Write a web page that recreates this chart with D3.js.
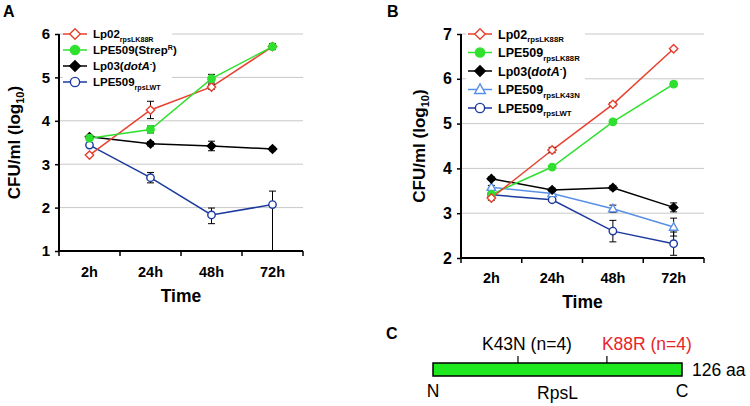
<!DOCTYPE html>
<html><head><meta charset="utf-8">
<script src="https://cdn.jsdelivr.net/npm/d3@7"></script>
<style>body{margin:0;background:#fff}svg{font-family:"Liberation Sans",Arial,sans-serif;display:block}</style>
</head><body><svg id="c" width="750" height="406"></svg>
<script>
const times = ["2h", "24h", "48h", "72h"];
const yTicksA = [1, 2, 3, 4, 5, 6];
const yTicksB = [2, 3, 4, 5, 6, 7];

// Panel A values (log10 CFU/ml) and error bars
const aLp02 = [3.21, 4.25, 4.78, 5.71];      const aLp02Err = [0.03, 0.2, 0.05, 0.06];
const aStrep = [3.6, 3.8, 4.97, 5.71];       const aStrepErr = [0.03, 0.08, 0.1, 0.07];
const aLp03 = [3.63, 3.47, 3.42, 3.35];      const aLp03Err = [0.03, 0.05, 0.11, 0.04];
const aWT = [3.44, 2.69, 1.83, 2.07];        const aWTErr = [0.05, 0.12, 0.16, 0.31];
const aWTErrLow = [0.05, 0.12, 0.2, 1.07];

// Panel B values
const bLp02 = [3.34, 4.41, 5.43, 6.67];      const bLp02Err = [0.05, 0.06, 0.04, 0.03];
const bK88R = [3.42, 4.03, 5.04, 5.88];      const bK88RErr = [0.03, 0.03, 0.04, 0.05];
const bLp03 = [3.77, 3.52, 3.57, 3.13];      const bLp03Err = [0.04, 0.04, 0.05, 0.1];
const bK43N = [3.58, 3.44, 3.1, 2.69];       const bK43NErr = [0.04, 0.05, 0.08, 0.2];
const bWT = [3.41, 3.3, 2.6, 2.32];          const bWTErr = [0.04, 0.04, 0.24, 0.26];

// Panel C
const proteinLength = 126;
const mutations = ["K43N (n=4)", "K88R (n=4)"];
const mutationPos = [43, 88];

const RED = "#e8412f", GREEN = "#2fe02f", BLACK = "#000", DBLUE = "#1c3a9e", LBLUE = "#5a8fe6";

const svg = d3.select("#c");

function marker(g, type, color, x, y, s) {
  s = s || 1;
  if (type === "diamondOpen" || type === "diamondFilled") {
    const r = 4.2 * s;
    g.append("path").attr("d", `M${x},${y - r}L${x + r},${y}L${x},${y + r}L${x - r},${y}Z`)
      .attr("fill", type === "diamondOpen" ? "#fff" : color).attr("stroke", color).attr("stroke-width", 1.4);
  } else if (type === "circleFilled" || type === "circleOpen") {
    g.append("circle").attr("cx", x).attr("cy", y).attr("r", 3.7 * s)
      .attr("fill", type === "circleOpen" ? "#fff" : color).attr("stroke", color).attr("stroke-width", 1.4);
  } else if (type === "triangleOpen") {
    const r = 4.5 * s;
    g.append("path").attr("d", `M${x},${y - r}L${x + r * 0.95},${y + r * 0.7}L${x - r * 0.95},${y + r * 0.7}Z`)
      .attr("fill", "#fff").attr("stroke", color).attr("stroke-width", 1.4);
  }
}

function labelParts(t, parts, fs) {
  parts.forEach(p => {
    const ts = t.append("tspan").text(p.t);
    if (p.sub) ts.attr("font-size", fs * 0.62).attr("dy", fs * 0.3);
    if (p.sup) ts.attr("font-size", fs * 0.62).attr("dy", -fs * 0.4);
    if (p.it) ts.attr("font-style", "italic");
    if (p.reset) ts.attr("dy", p.reset);
  });
}

function panel(cfg) {
  const g = svg.append("g");
  const x = d3.scaleBand().domain(times).range(cfg.xr);
  const y = d3.scaleLinear().domain(cfg.yd).range(cfg.yr);
  const cx = d => x(d) + x.bandwidth() / 2;

  // gridlines
  g.append("g").selectAll("line").data(cfg.yTicks.slice(1)).join("line")
    .attr("x1", cfg.xr[0]).attr("x2", cfg.xr[1]).attr("y1", d => y(d)).attr("y2", d => y(d))
    .attr("stroke", "#c8c8c8").attr("stroke-width", 1);

  // legend background
  g.append("rect").attr("x", cfg.legBg[0]).attr("y", cfg.legBg[1]).attr("width", cfg.legBg[2]).attr("height", cfg.legBg[3]).attr("fill", "#fff");

  // y axis
  const ya = g.append("g").attr("transform", `translate(${cfg.xr[0]},0)`)
    .call(d3.axisLeft(y).tickValues(cfg.yTicks).tickFormat(d3.format("d")).tickSize(4).tickPadding(5));
  ya.select(".domain").attr("stroke-width", 2).attr("d", `M0,${cfg.yr[0]}V${cfg.yr[1]}`);
  ya.selectAll(".tick line").attr("stroke-width", 1.5);
  ya.selectAll("text").attr("font-size", cfg.tickFs).attr("font-weight", "bold").attr("fill", "#000");

  // x axis
  const xa = g.append("g").attr("transform", `translate(0,${cfg.yr[0]})`);
  xa.append("line").attr("x1", cfg.xr[0]).attr("x2", cfg.xr[1]).attr("stroke", "#000").attr("stroke-width", 2);
  const bounds = times.map(d => x(d)).concat([x(times[times.length - 1]) + x.step()]);
  xa.selectAll(".bt").data(bounds).join("line").attr("class", "bt")
    .attr("x1", d => d).attr("x2", d => d).attr("y1", 0).attr("y2", 5).attr("stroke", "#000").attr("stroke-width", 1.5);
  xa.selectAll(".xl").data(times).join("text").attr("class", "xl")
    .attr("x", cx).attr("y", cfg.xlabDy).attr("text-anchor", "middle")
    .attr("font-size", 14.5).attr("font-weight", "bold").text(d => d);

  // axis titles
  g.append("text").attr("x", (cfg.xr[0] + cfg.xr[1]) / 2).attr("y", cfg.timeY).attr("text-anchor", "middle")
    .attr("font-size", 17.5).attr("font-weight", "bold").text("Time");
  const yt = g.append("text").attr("transform", `translate(${cfg.ytX},${(cfg.yr[0] + cfg.yr[1]) / 2}) rotate(-90)`)
    .attr("text-anchor", "middle").attr("font-size", 17).attr("font-weight", "bold");
  yt.append("tspan").text("CFU/ml (log");
  yt.append("tspan").text("10").attr("font-size", 11).attr("dy", 4);
  yt.append("tspan").text(")").attr("dy", -4);

  // panel letter
  g.append("text").attr("x", cfg.letter[0]).attr("y", cfg.letter[1]).attr("font-size", 16).attr("font-weight", "bold").text(cfg.letter[2]);

  // lines
  const line = d3.line().x((d, i) => cx(times[i])).y(d => y(d));
  cfg.series.forEach(s => {
    g.append("path").attr("d", line(s.v)).attr("fill", "none").attr("stroke", s.c).attr("stroke-width", 1.5);
  });
  // error bars
  cfg.series.forEach(s => {
    s.v.forEach((v, i) => {
      const lo = v - (s.el ? s.el[i] : s.e[i]), hi = v + s.e[i];
      const xx = cx(times[i]);
      g.append("line").attr("x1", xx).attr("x2", xx).attr("y1", y(lo)).attr("y2", y(hi)).attr("stroke", "#000").attr("stroke-width", 1);
      [hi, lo].forEach(w => {
        if (w > cfg.yd[0]) g.append("line").attr("x1", xx - 3.5).attr("x2", xx + 3.5).attr("y1", y(w)).attr("y2", y(w)).attr("stroke", "#000").attr("stroke-width", 1);
      });
    });
  });
  // markers
  cfg.series.forEach(s => {
    s.v.forEach((v, i) => marker(g, s.m, s.c, cx(times[i]), y(v)));
  });

  // legend
  cfg.series.slice().sort((a, b) => a.li - b.li).forEach((s, k) => {
    const ly = cfg.legY + k * cfg.legStep;
    g.append("line").attr("x1", cfg.legX).attr("x2", cfg.legX + 24).attr("y1", ly).attr("y2", ly).attr("stroke", s.c).attr("stroke-width", 1.5);
    marker(g, s.m, s.c, cfg.legX + 12, ly, 1.25);
    const t = g.append("text").attr("x", cfg.legX + 30).attr("y", ly + cfg.legFs * 0.36)
      .attr("font-size", cfg.legFs).attr("font-weight", "bold");
    labelParts(t, s.lab, cfg.legFs);
  });
}

panel({
  xr: [59, 303], yd: [1, 6], yr: [251, 34], yTicks: yTicksA, tickFs: 15,
  xlabDy: 26, timeY: 302, ytX: 20, letter: [3, 17, "A"],
  legBg: [63, 26, 109, 64], legX: 63, legY: 34, legStep: 16, legFs: 11.5,
  series: [
    { v: aWT, e: aWTErr, el: aWTErrLow, c: DBLUE, m: "circleOpen", li: 3,
      lab: [{ t: "LPE509" }, { t: "rpsLWT", sub: 1 }] },
    { v: aLp03, e: aLp03Err, c: BLACK, m: "diamondFilled", li: 2,
      lab: [{ t: "Lp03(" }, { t: "dotA", it: 1 }, { t: "-", sup: 1 }, { t: ")", reset: 11.5 * 0.4 }] },
    { v: aLp02, e: aLp02Err, c: RED, m: "diamondOpen", li: 0,
      lab: [{ t: "Lp02" }, { t: "rpsLK88R", sub: 1 }] },
    { v: aStrep, e: aStrepErr, c: GREEN, m: "circleFilled", li: 1,
      lab: [{ t: "LPE509(Strep" }, { t: "R", sup: 1 }, { t: ")", reset: 11.5 * 0.4 }] }
  ]
});

panel({
  xr: [461, 704], yd: [2, 7], yr: [258, 34], yTicks: yTicksB, tickFs: 16,
  xlabDy: 25, timeY: 308, ytX: 425, letter: [387, 17, "B"],
  legBg: [466, 26, 119, 97], legX: 468, legY: 34, legStep: 18.5, legFs: 12.5,
  series: [
    { v: bWT, e: bWTErr, c: DBLUE, m: "circleOpen", li: 4,
      lab: [{ t: "LPE509" }, { t: "rpsLWT", sub: 1 }] },
    { v: bK43N, e: bK43NErr, c: LBLUE, m: "triangleOpen", li: 3,
      lab: [{ t: "LPE509" }, { t: "rpsLK43N", sub: 1 }] },
    { v: bLp03, e: bLp03Err, c: BLACK, m: "diamondFilled", li: 2,
      lab: [{ t: "Lp03(" }, { t: "dotA", it: 1 }, { t: "-", sup: 1 }, { t: ")", reset: 12.5 * 0.4 }] },
    { v: bK88R, e: bK88RErr, c: GREEN, m: "circleFilled", li: 1,
      lab: [{ t: "LPE509" }, { t: "rpsLK88R", sub: 1 }] },
    { v: bLp02, e: bLp02Err, c: RED, m: "diamondOpen", li: 0,
      lab: [{ t: "Lp02" }, { t: "rpsLK88R", sub: 1 }] }
  ]
});

// Panel C
(function () {
  const g = svg.append("g");
  const xs = d3.scaleLinear().domain([0, proteinLength]).range([433, 682]);
  g.append("text").attr("x", 386).attr("y", 339).attr("font-size", 16).attr("font-weight", "bold").text("C");
  g.append("rect").attr("x", xs(0)).attr("y", 363).attr("width", xs(proteinLength) - xs(0)).attr("height", 13)
    .attr("fill", "#1ee81e").attr("stroke", "#000").attr("stroke-width", 1.5);
  mutationPos.forEach((p, i) => {
    g.append("line").attr("x1", xs(p)).attr("x2", xs(p)).attr("y1", 356).attr("y2", 363).attr("stroke", "#000").attr("stroke-width", 1.2);
  });
  const labOff = [9, 40];
  const labCol = ["#000", "#e8252a"];
  mutations.forEach((m, i) => {
    g.append("text").attr("x", xs(mutationPos[i]) + labOff[i]).attr("y", 350).attr("text-anchor", "middle")
      .attr("font-size", 17.5).attr("fill", labCol[i]).text(m);
  });
  g.append("text").attr("x", xs(proteinLength) + 10).attr("y", 376).attr("font-size", 17.5).text(proteinLength + " aa");
  g.append("text").attr("x", xs(0)).attr("y", 397).attr("text-anchor", "middle").attr("font-size", 17.5).text("N");
  g.append("text").attr("x", xs(proteinLength)).attr("y", 397).attr("text-anchor", "middle").attr("font-size", 17.5).text("C");
  g.append("text").attr("x", (xs(0) + xs(proteinLength)) / 2).attr("y", 399).attr("text-anchor", "middle").attr("font-size", 17.5).text("RpsL");
})();
</script></body></html>
